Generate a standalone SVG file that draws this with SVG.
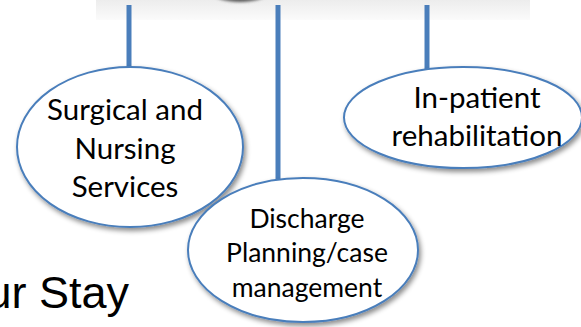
<svg xmlns="http://www.w3.org/2000/svg" width="581" height="327" viewBox="0 0 581 327">
  <style>
    .link { stroke: #4a7ebb; stroke-width: 5; fill: none; }
    .bubble { fill: #ffffff; stroke: #4a7ebb; stroke-width: 2; filter: url(#shadow); }
    .label { font-family: Lato, "Open Sans", sans-serif; fill: #000000; text-anchor: middle; }
  </style>
  <defs>
    <filter id="shadow" x="-20%" y="-20%" width="150%" height="150%">
      <feDropShadow dx="2" dy="3" stdDeviation="2.5" flood-color="#000000" flood-opacity="0.45"/>
    </filter>
    <linearGradient id="bandFill" x1="0" y1="0" x2="0" y2="1">
      <stop offset="0" stop-color="#ebebeb"/>
      <stop offset="1" stop-color="#fbfbfb"/>
    </linearGradient>
    <filter id="soft" x="-50%" y="-50%" width="200%" height="200%">
      <feGaussianBlur stdDeviation="1.5"/>
    </filter>
  </defs>

  <rect width="581" height="327" fill="#ffffff"/>

  <!-- parent box edge along the top -->
  <g id="parent">
    <rect x="96" y="-2" width="434" height="22" fill="url(#bandFill)"/>
    <ellipse cx="240" cy="-10" rx="30" ry="12" fill="#5a5a5a" filter="url(#soft)"/>
  </g>

  <!-- connectors -->
  <g id="connectors">
    <line class="link" x1="129" y1="5" x2="129" y2="69"/>
    <line class="link" x1="278" y1="5" x2="278" y2="183"/>
    <line class="link" x1="427" y1="5" x2="427" y2="70"/>
  </g>

  <g id="surgical">
    <ellipse class="bubble" cx="130" cy="147" rx="113" ry="80"/>
    <text class="label" font-size="29.5" x="125" y="120">Surgical and</text>
    <text class="label" font-size="29.5" x="125" y="159">Nursing</text>
    <text class="label" font-size="29.5" x="125" y="197">Services</text>
  </g>

  <g id="inpatient">
    <ellipse class="bubble" cx="463" cy="117.5" rx="119" ry="50.5"/>
    <text class="label" font-size="29.5" x="477" y="108">In-patient</text>
    <text class="label" font-size="29.5" x="477" y="146">rehabilitation</text>
  </g>

  <g id="discharge">
    <ellipse class="bubble" cx="303" cy="250" rx="115" ry="72"/>
    <text class="label" font-size="26.5" x="307" y="228">Discharge</text>
    <text class="label" font-size="26.5" x="307" y="262">Planning/case</text>
    <text class="label" font-size="26.5" x="307" y="297">management</text>
  </g>

  <!-- slide title fragment -->
  <text font-family="'Liberation Sans', Arial, sans-serif" font-size="45" x="129" y="308" text-anchor="end" fill="#000000">ur Stay</text>
</svg>
